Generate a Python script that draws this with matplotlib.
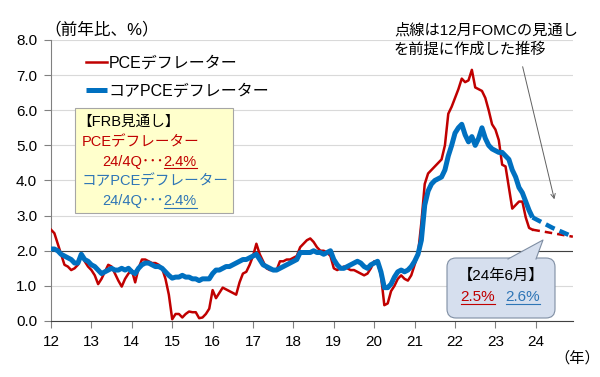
import numpy as np
import pandas as pd
import matplotlib
matplotlib.use('Agg')
import matplotlib.pyplot as plt
import matplotlib.patches as mpatches
from matplotlib.lines import Line2D

plt.rcParams['font.family'] = ['Liberation Sans', 'Noto Sans CJK JP']

# 実績（前年比、%）2012/1～2023/12
pce = [
    2.6, 2.5, 2.2, 1.9, 1.6, 1.55, 1.45, 1.5, 1.6, 1.9, 1.7, 1.55,
    1.45, 1.3, 1.05, 1.2, 1.4, 1.6, 1.55, 1.35, 1.15, 0.98, 1.2, 1.35,
    1.45, 1.1, 1.5, 1.75, 1.75, 1.7, 1.65, 1.65, 1.6, 1.5, 1.2, 0.75,
    0.05, 0.2, 0.2, 0.1, 0.2, 0.27, 0.25, 0.25, 0.08, 0.1, 0.2, 0.35,
    0.88, 0.65, 0.8, 0.95, 0.9, 0.85, 0.8, 0.75, 1.1, 1.35, 1.4, 1.6,
    1.85, 2.2, 1.9, 1.7, 1.5, 1.45, 1.45, 1.45, 1.7, 1.7, 1.75, 1.75,
    1.8, 1.85, 2.1, 2.2, 2.3, 2.35, 2.25, 2.1, 2.0, 2.0, 1.95, 1.85,
    1.5, 1.45, 1.5, 1.55, 1.5, 1.45, 1.45, 1.4, 1.35, 1.3, 1.35, 1.5,
    1.7, 1.65, 1.3, 0.45, 0.5, 0.85, 1.0, 1.2, 1.3, 1.2, 1.15, 1.3,
    1.6, 1.9, 2.8, 3.9, 4.2, 4.3, 4.4, 4.5, 4.6, 5.0, 5.9, 6.1,
    6.35, 6.6, 6.9, 6.8, 6.85, 7.15, 6.65, 6.6, 6.55, 6.35, 6.0, 5.6,
    5.45, 5.15, 4.45, 4.4, 3.8, 3.2, 3.3, 3.4, 3.4, 2.95, 2.65, 2.6,
]
core = [
    2.05, 2.05, 2.0, 1.9, 1.85, 1.8, 1.75, 1.65, 1.65, 1.9, 1.75, 1.7,
    1.6, 1.55, 1.45, 1.35, 1.4, 1.45, 1.5, 1.45, 1.45, 1.5, 1.45, 1.5,
    1.4, 1.35, 1.5, 1.6, 1.65, 1.65, 1.6, 1.55, 1.55, 1.5, 1.4, 1.3,
    1.22, 1.25, 1.25, 1.3, 1.25, 1.25, 1.2, 1.2, 1.15, 1.2, 1.2, 1.2,
    1.35, 1.45, 1.45, 1.5, 1.55, 1.55, 1.6, 1.65, 1.7, 1.75, 1.75, 1.8,
    1.85, 1.9, 1.75, 1.6, 1.55, 1.5, 1.45, 1.45, 1.5, 1.55, 1.6, 1.65,
    1.7, 1.75, 1.95, 1.95, 1.95, 1.95, 2.0, 1.95, 1.95, 1.9, 1.95, 2.0,
    1.75, 1.6, 1.5, 1.5, 1.55, 1.6, 1.65, 1.7, 1.65, 1.55, 1.5, 1.6,
    1.65, 1.7, 1.4, 0.95, 0.95, 1.05, 1.25, 1.4, 1.45, 1.4, 1.45, 1.55,
    1.7, 1.9, 2.3, 3.3, 3.7, 3.9, 4.0, 4.05, 4.1, 4.3, 4.7, 5.0,
    5.35, 5.5, 5.6, 5.3, 5.1, 5.25, 5.0, 5.2, 5.5, 5.2, 5.0, 4.9,
    4.85, 4.8, 4.8, 4.7, 4.6, 4.3, 4.1, 3.8, 3.65, 3.4, 3.15, 2.95,
]
months = pd.period_range('2012-01', '2023-12', freq='M')

# 12月FOMC見通しを前提とした推移（点線）
proj_months = pd.PeriodIndex(['2023-12', '2024-06', '2024-12'], freq='M')
proj_pce = [2.6, 2.5, 2.4]
proj_core = [2.95, 2.65, 2.4]

year_ticks = list(range(12, 25))
y_ticks = [0, 1, 2, 3, 4, 5, 6, 7, 8]


def to_x(p):
    return np.array([q.year - 2000 + (q.month - 1) / 12 for q in p])


RED = '#C00000'
BLUE = '#0070C0'
TBLUE = '#2E75B6'

fig = plt.figure(figsize=(6, 3.77), dpi=100)
ax = fig.add_axes([51 / 600, 1 - 321 / 377, 522 / 600, 281 / 377])

ax.plot(to_x(months), pce, color=RED, lw=1.8, label='PCEデフレーター', zorder=3)
ax.plot(to_x(months), core, color=BLUE, lw=3.6, label='コアPCEデフレーター', zorder=4,
        solid_capstyle='butt')
ax.plot(to_x(proj_months), proj_pce, color=RED, lw=1.8, ls=(0, (3, 2)), zorder=3)
ax.plot(to_x(proj_months), proj_core, color=BLUE, lw=3.2, ls=(0, (2.2, 1.2)), zorder=4)

ax.set_xlim(12, 24.92)
ax.set_ylim(0, 8)
ax.set_xticks(year_ticks)
ax.set_xticklabels([str(y) for y in year_ticks])
ax.set_yticks(y_ticks)
ax.set_yticklabels([f'{v:.1f}' for v in y_ticks])
ax.tick_params(labelsize=11, length=5, width=0.8, color='#808080', pad=5)
ax.grid(axis='y', color='#D9D9D9', lw=0.8, zorder=0)
ax.axhline(2.0, color='#404040', lw=0.8, zorder=1)
for s in ['top', 'right']:
    ax.spines[s].set_visible(False)
ax.spines['left'].set_color('#808080')
ax.spines['bottom'].set_color('#404040')
ax.set_axisbelow(True)

ax.legend(loc='upper left', bbox_to_anchor=(0.067, 0.945), frameon=False, fontsize=11.5,
          handlelength=1.3, handletextpad=0.1, labelspacing=0.8, borderpad=0,
          borderaxespad=0)


def P(px, py):
    # ピクセル座標（左上原点）→ インチ
    return (px / 100, (377 - py) / 100)


tr = fig.dpi_scale_trans

fig.text(*P(44, 29), '（前年比、%）', transform=tr, fontsize=12, va='center', ha='left')
fig.text(*P(577, 358), '（年）', transform=tr, fontsize=11, va='center', ha='center')

# FRB見通しボックス
fig.add_artist(mpatches.Rectangle(P(75, 213), 1.58, 1.05, transform=tr,
                                  facecolor='#FFFFCC', edgecolor='#A6A6A6', lw=0.8))
fs = 10.5
fig.text(*P(77, 122), '【FRB見通し】', transform=tr, fontsize=fs, va='center', color='black')
fig.text(*P(82, 142), 'PCEデフレーター', transform=tr, fontsize=fs, va='center', color=RED)
t1 = fig.text(*P(102, 162), '24/4Q･･･', transform=tr, fontsize=fs, va='center', color=RED)
fig.text(*P(82, 181), 'コアPCEデフレーター', transform=tr, fontsize=fs, va='center', color=TBLUE)
t2 = fig.text(*P(102, 201), '24/4Q･･･', transform=tr, fontsize=fs, va='center', color=TBLUE)

# 注記と矢印
fig.text(*P(394, 30), '点線は12月FOMCの見通し', transform=tr, fontsize=11, va='center')
fig.text(*P(394, 50), 'を前提に作成した推移', transform=tr, fontsize=11, va='center')
fig.add_artist(mpatches.FancyArrowPatch(P(522, 64), P(555, 202), transform=tr,
                                        arrowstyle='->', mutation_scale=8,
                                        color='#606060', lw=0.7))

# 24年6月の吹き出し
face, edge = '#D6DFEE', '#7F8EA3'
fig.add_artist(mpatches.FancyBboxPatch(P(447, 318), 1.08, 0.60, transform=tr,
                                       boxstyle='round,pad=0,rounding_size=0.09',
                                       facecolor=face, edgecolor=edge, lw=0.8, zorder=5))
tail = [P(508, 259), P(543, 240), P(536, 259)]
fig.add_artist(mpatches.Polygon(tail, closed=True, transform=tr, facecolor=face,
                                edgecolor='none', zorder=6))
fig.add_artist(Line2D([tail[0][0], tail[1][0], tail[2][0]],
                      [tail[0][1], tail[1][1], tail[2][1]], transform=tr,
                      color=edge, lw=0.8, zorder=7))
fig.text(*P(501, 276), '【24年6月】', transform=tr, fontsize=11, ha='center',
         va='center', zorder=8)
u1 = fig.text(*P(478, 297), '2.5%', transform=tr, fontsize=11, ha='center',
              va='center', color=RED, zorder=8)
u2 = fig.text(*P(523, 297), '2.6%', transform=tr, fontsize=11, ha='center',
              va='center', color=TBLUE, zorder=8)

renderer = fig.canvas.get_renderer()
inv = fig.dpi_scale_trans.inverted()
under = []
for t, col in [(t1, RED), (t2, TBLUE)]:
    bb = t.get_window_extent(renderer).transformed(inv)
    under.append(fig.text(bb.x1, (bb.y0 + bb.y1) / 2, '2.4%', transform=tr,
                          fontsize=fs, va='center', color=col))
for t, col in [(under[0], RED), (under[1], TBLUE), (u1, RED), (u2, TBLUE)]:
    bb = t.get_window_extent(renderer).transformed(inv)
    fig.add_artist(Line2D([bb.x0, bb.x1], [bb.y0 + 0.005, bb.y0 + 0.005], transform=tr,
                          color=col, lw=0.8, zorder=8))

fig.savefig('out.png', dpi=100)
